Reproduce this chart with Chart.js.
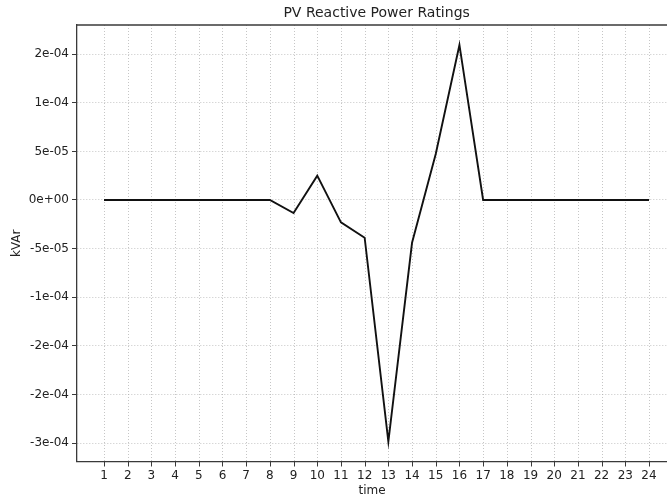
<!DOCTYPE html>
<html><head><meta charset="utf-8">
<script src="https://cdn.jsdelivr.net/npm/chart.js@4"></script>
<style>html,body{margin:0;padding:0;overflow:hidden;background:#fff}
#wrap{width:667px;height:500px;position:relative}</style></head>
<body><div id="wrap"><canvas id="c"></canvas></div>
<script>
const hours = [1,2,3,4,5,6,7,8,9,10,11,12,13,14,15,16,17,18,19,20,21,22,23,24];
const reactivePower = [0,0,0,0,0,0,0,0,-1.34e-5,2.5e-5,-2.3e-5,-3.88e-5,-2.486e-4,-4.4e-5,4.73e-5,1.595e-4,0,0,0,0,0,0,0,0];
const yTickValues = [-2.5e-4,-2e-4,-1.5e-4,-1e-4,-5e-5,0,5e-5,1e-4,1.5e-4];
const yTickLabels = ['-3e-04','-2e-04','-2e-04','-1e-04','-5e-05','0e+00','5e-05','1e-04','2e-04'];
const chartTitle = 'PV Reactive Power Ratings';

const FONT = 'DejaVu Sans';
const gridColor = 'rgba(165,165,165,0.8)';
const spineColor = '#3a3a3a';
const X_MIN = -0.14, X_MAX = 24.76;       // visible window (plot continues past the right edge)
const X_FULL_MAX = 25.15;                 // full x-limit, used to centre the title

const frame = {
  id: 'frame',
  beforeDatasetsDraw(chart) {
    // vertical grid lines and tick marks at each x tick, positioned by the x scale
    const {ctx, chartArea: a, scales: {x}} = chart;
    ctx.save();
    x.ticks.forEach(t => {
      const px = Math.round(x.getPixelForValue(t.value)) + 0.5;
      ctx.strokeStyle = gridColor;
      ctx.lineWidth = 0.8;
      ctx.setLineDash([1, 2]);
      ctx.beginPath(); ctx.moveTo(px, a.top); ctx.lineTo(px, a.bottom); ctx.stroke();
      ctx.setLineDash([]);
      ctx.strokeStyle = spineColor;
      ctx.lineWidth = 1;
      ctx.beginPath(); ctx.moveTo(px, a.bottom); ctx.lineTo(px, a.bottom + 5); ctx.stroke();
    });
    ctx.restore();
  },
  afterDraw(chart) {
    const {ctx, chartArea: a, scales: {x}} = chart;
    ctx.save();
    ctx.strokeStyle = spineColor;
    ctx.lineWidth = 1.3;
    ctx.beginPath();
    ctx.moveTo(a.left, a.top);
    ctx.lineTo(a.right + 2, a.top);
    ctx.stroke();
    const fullRight = x.getPixelForValue(X_FULL_MAX);
    ctx.fillStyle = '#222';
    ctx.font = '14px "' + FONT + '"';
    ctx.textAlign = 'center';
    ctx.textBaseline = 'middle';
    ctx.fillText(chartTitle, (a.left + fullRight) / 2, 13);
    ctx.restore();
  }
};

new Chart(document.getElementById('c'), {
  type: 'line',
  data: {
    datasets: [{
      data: hours.map((h, i) => ({x: h, y: reactivePower[i]})),
      borderColor: '#111',
      borderWidth: 1.9,
      pointRadius: 0,
      tension: 0,
      fill: false
    }]
  },
  options: {
    responsive: true,
    maintainAspectRatio: false,
    devicePixelRatio: 1,
    animation: false,
    layout: {padding: {left: 0, right: 0, top: 25, bottom: 0}},
    plugins: {
      legend: {display: false},
      tooltip: {enabled: false},
      title: {display: false}
    },
    scales: {
      x: {
        type: 'linear',
        min: X_MIN,
        max: X_MAX,
        afterBuildTicks: s => { s.ticks = hours.map(v => ({value: v})); },
        afterFit: s => { s.height = 38.5; },
        grid: {color: 'rgba(0,0,0,0)', lineWidth: 0.8, tickLength: 5,
          tickColor: 'rgba(0,0,0,0)', tickWidth: 1, tickBorderDash: []},
        border: {display: true, color: spineColor, width: 1.3, dash: [1, 2]},
        ticks: {color: '#222', font: {family: FONT, size: 12}, padding: 2, maxRotation: 0, autoSkip: false,
          callback: v => String(v)},
        title: {display: true, text: 'time', color: '#222', font: {family: FONT, size: 12}, padding: {top: 0, bottom: 2}}
      },
      y: {
        type: 'linear',
        min: -2.69e-4,
        max: 1.80e-4,
        afterBuildTicks: s => { s.ticks = yTickValues.map(v => ({value: v})); },
        afterFit: s => { s.width = 77; },
        grid: {color: gridColor, lineWidth: 0.8, tickLength: 5, tickColor: spineColor, tickWidth: 1, tickBorderDash: []},
        border: {display: true, color: spineColor, width: 1.3, dash: [1, 2]},
        ticks: {color: '#222', font: {family: FONT, size: 12}, padding: 3,
          callback: (v, i) => yTickLabels[i]},
        title: {display: true, text: 'kVAr', color: '#222', font: {family: FONT, size: 12}, padding: {top: 10, bottom: 0}}
      }
    }
  },
  plugins: [frame]
});
</script>
</body></html>
